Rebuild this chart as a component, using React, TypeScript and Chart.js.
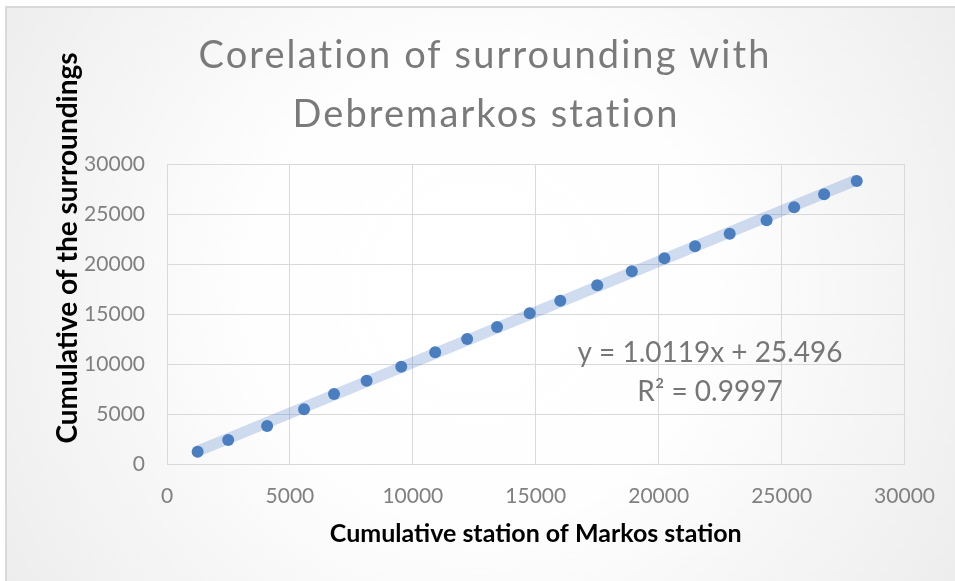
import React, { useEffect, useRef } from "react";
import { Chart, registerables } from "chart.js";

Chart.register(...registerables);

const titleLines = ["Corelation of surrounding with", "Debremarkos station"];
const xAxisTitle = "Cumulative station of Markos station";
const yAxisTitle = "Cumulative of the surroundings";
const equationLines = ["y = 1.0119x + 25.496", "R² = 0.9997"];

const markosCumulative = [1246, 2490, 4073, 5575, 6794, 8120, 9529, 10909, 12208, 13426, 14752, 15997, 17499, 18907, 20231, 21478, 22887, 24388, 25510, 26728, 28055];
const surroundingsCumulative = [1230, 2400, 3800, 5470, 7000, 8330, 9730, 11170, 12500, 13700, 15070, 16330, 17870, 19270, 20570, 21770, 23030, 24370, 25670, 26970, 28300];

const trendSlope = 1.0119;
const trendIntercept = 25.496;

const axisMin = 0;
const axisMax = 30000;
const axisStep = 5000;

const W = 955;
const H = 581;
const FONT = "Lato, 'Open Sans', sans-serif";

export default function App() {
  const ref = useRef<HTMLCanvasElement | null>(null);

  useEffect(() => {
    if (!ref.current) return;
    const points = markosCumulative.map((x, i) => ({ x, y: surroundingsCumulative[i] }));
    const x0 = markosCumulative[0];
    const x1 = markosCumulative[markosCumulative.length - 1];
    const trend = [
      { x: x0, y: trendSlope * x0 + trendIntercept },
      { x: x1, y: trendSlope * x1 + trendIntercept },
    ];

    const bgPlugin = {
      id: "bgPlugin",
      beforeDraw(chart: any) {
        const ctx = chart.ctx;
        ctx.save();
        ctx.fillStyle = "#ffffff";
        ctx.fillRect(0, 0, W, H);
        const g = ctx.createRadialGradient(480, 290, 0, 480, 290, 580);
        g.addColorStop(0, "#ffffff");
        g.addColorStop(0.4, "#fefefe");
        g.addColorStop(1, "#ececec");
        ctx.fillStyle = g;
        ctx.fillRect(6, 7, W - 6, H - 7);
        ctx.strokeStyle = "#d9d9d9";
        ctx.lineWidth = 2;
        ctx.beginPath();
        ctx.moveTo(6, H);
        ctx.lineTo(6, 7);
        ctx.lineTo(W, 7);
        ctx.stroke();
        ctx.restore();
      },
    };

    const drawSpaced = (ctx: any, text: string, cx: number, y: number, spacing: number) => {
      if ("letterSpacing" in ctx) {
        ctx.letterSpacing = `${spacing}px`;
        const w = ctx.measureText(text).width;
        ctx.textAlign = "left";
        ctx.fillText(text, cx - (w - spacing) / 2, y);
        ctx.letterSpacing = "0px";
        ctx.textAlign = "center";
      } else {
        ctx.fillText(text, cx, y);
      }
    };

    const textPlugin = {
      id: "textPlugin",
      afterDraw(chart: any) {
        const ctx = chart.ctx;
        const area = chart.chartArea;
        ctx.save();
        ctx.textAlign = "center";
        ctx.textBaseline = "alphabetic";
        // main title
        ctx.fillStyle = "#7a7a7a";
        ctx.font = `normal 38px ${FONT}`;
        drawSpaced(ctx, titleLines[0], 484, 68, 2.1);
        drawSpaced(ctx, titleLines[1], 485, 127, 2.1);
        // x axis title
        ctx.fillStyle = "#000000";
        ctx.font = `bold 25px ${FONT}`;
        ctx.fillText(xAxisTitle, (area.left + area.right) / 2, 542);
        // y axis title
        ctx.save();
        ctx.translate(68, 248);
        ctx.rotate(-Math.PI / 2);
        ctx.textBaseline = "middle";
        ctx.font = `bold 28px ${FONT}`;
        ctx.fillText(yAxisTitle, 0, 0);
        ctx.restore();
        // equation
        ctx.fillStyle = "#767676";
        ctx.font = `28px ${FONT}`;
        ctx.fillText(equationLines[0], 710, 362);
        ctx.fillText(equationLines[1], 710, 401);
        ctx.restore();
      },
    };

    const chart = new Chart(ref.current, {
      type: "scatter",
      data: {
        datasets: [
          {
            type: "line",
            label: "Trend",
            data: trend,
            borderColor: "rgba(68,114,196,0.25)",
            borderWidth: 11,
            borderCapStyle: "butt",
            pointRadius: 0,
            fill: false,
            order: 2,
          } as any,
          {
            label: "Points",
            data: points,
            backgroundColor: "#4a7ebe",
            borderColor: "#4a7ebe",
            pointRadius: 6,
            pointBorderWidth: 0,
            order: 1,
          },
        ],
      },
      options: {
        responsive: false,
        animation: false,
        layout: { padding: { left: 0, right: 49, top: 164, bottom: 0 } },
        plugins: {
          legend: { display: false },
          title: { display: false },
          tooltip: { enabled: false },
        },
        scales: {
          x: {
            type: "linear",
            min: axisMin,
            max: axisMax,
            afterFit: (s: any) => {
              s.height = H - 464;
            },
            grid: { color: "#d9d9d9", lineWidth: 1, drawTicks: false },
            border: { color: "#d9d9d9", width: 1 },
            ticks: {
              stepSize: axisStep,
              padding: 20,
              color: "#808080",
              font: { family: FONT, size: 21 },
              callback: (v: any) => String(v),
            },
          },
          y: {
            type: "linear",
            min: axisMin,
            max: axisMax,
            afterFit: (s: any) => {
              s.width = 167;
            },
            grid: { color: "#d9d9d9", lineWidth: 1, drawTicks: false },
            border: { color: "#d9d9d9", width: 1 },
            ticks: {
              stepSize: axisStep,
              padding: 22,
              color: "#808080",
              font: { family: FONT, size: 21 },
              callback: (v: any) => String(v),
            },
          },
        },
      },
      plugins: [bgPlugin, textPlugin],
    } as any);

    return () => chart.destroy();
  }, []);

  return (
    <div style={{ position: "absolute", left: 0, top: 0, width: W, height: H }}>
      <canvas ref={ref} width={W} height={H} style={{ width: W, height: H, display: "block" }} />
    </div>
  );
}
